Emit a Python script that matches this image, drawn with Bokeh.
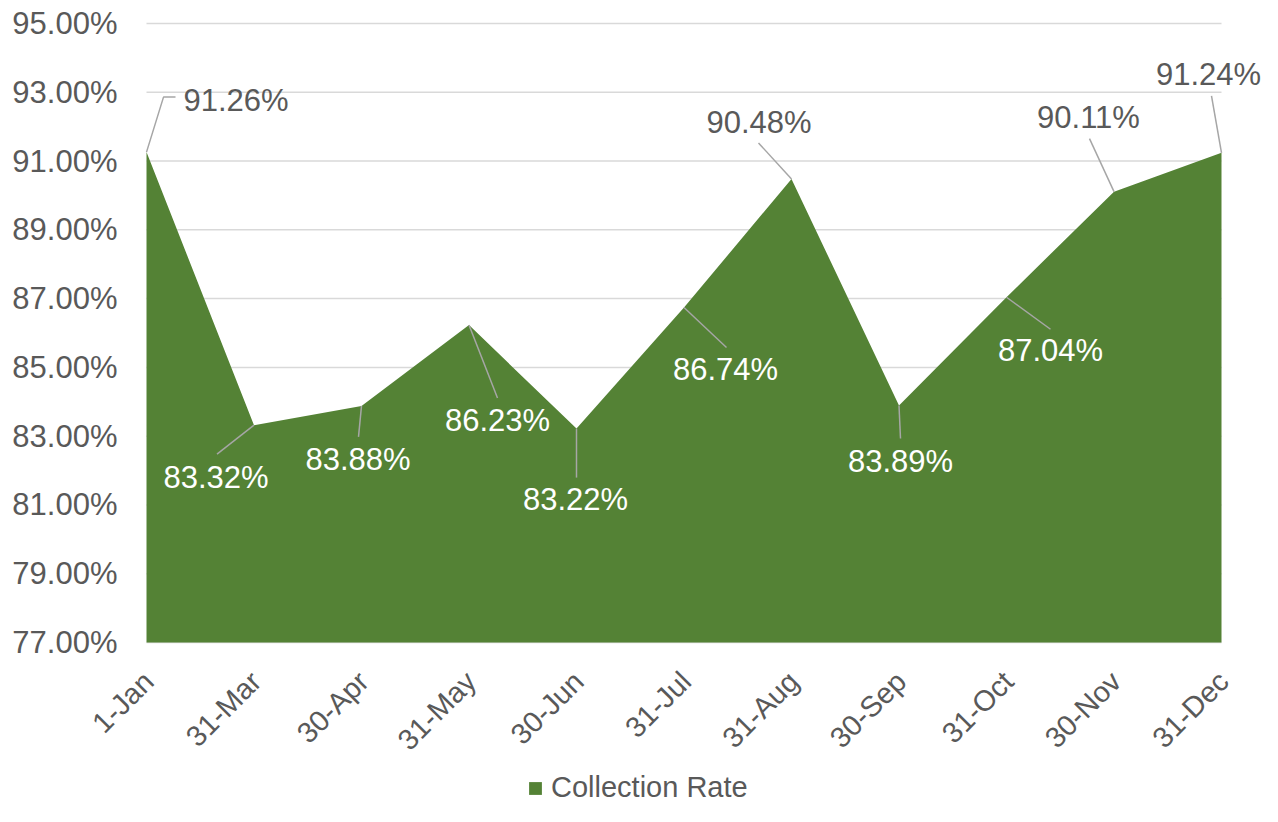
from bokeh.plotting import figure
from bokeh.models import ColumnDataSource, LabelSet, Legend, LegendItem, Range1d
from bokeh.core.properties import value
from bokeh.embed import file_html
from bokeh.resources import INLINE
import math

# ---- data ----
dates = ["1-Jan", "31-Mar", "30-Apr", "31-May", "30-Jun", "31-Jul",
         "31-Aug", "30-Sep", "31-Oct", "30-Nov", "31-Dec"]
collection_rate = [91.26, 83.32, 83.88, 86.23, 83.22, 86.74,
                   90.48, 83.89, 87.04, 90.11, 91.24]
y_ticks = [77, 79, 81, 83, 85, 87, 89, 91, 93, 95]
series_name = "Collection Rate"

# ---- layout / style ----
Y_MIN, Y_MAX = 77, 95
FIG_W, FIG_H = 1262, 806
PLOT_LEFT, PLOT_RIGHT, PLOT_TOP, PLOT_BOTTOM = 146, 1221, 23, 642   # plot area in px
FONT = "Liberation Sans"
GREEN = "#548235"
TXT = "#595959"
LEADER = "#a6a6a6"
GRID = "#d9d9d9"

# label offsets in screen pixels (dx right, dy up) and text colour per label
label_dx = [89.5, -38, -3.5, 28.5, -1, 41.5, -32.5, 1.5, 44, -25.5, -13]
label_dy = [51.6, -52.3, -53.6, -95.4, -70.9, -62, 56.4, -56, -53.3, 74.1, 78.3]
label_col = [TXT, "white", "white", "white", "white", "white", TXT, "white", "white", TXT, TXT]
# leader line bends (screen px offsets from the point)
leader_pts = [[(17, 55), (29, 55)], [(-37, -29)], [(-3, -31)], [(28.5, -73)], [(0, -49)],
              [(42.5, -40)], [(-33, 36)], [(1.5, -33)], [(44, -32)], [(-24.5, 53)], [(-10, 57)]]

n = len(dates)
xs = list(range(n))
sx = (PLOT_RIGHT - PLOT_LEFT) / (n - 1)
sy = (PLOT_BOTTOM - PLOT_TOP) / (Y_MAX - Y_MIN)

x_rng = Range1d(-PLOT_LEFT / sx, (FIG_W - PLOT_LEFT) / sx)
y_rng = Range1d(Y_MIN - (FIG_H - PLOT_BOTTOM) / sy, Y_MAX + PLOT_TOP / sy)

p = figure(frame_width=FIG_W, frame_height=FIG_H, output_backend="svg",
           toolbar_location=None, x_range=x_rng, y_range=y_rng,
           min_border_left=0, min_border_right=0, min_border_top=0, min_border_bottom=0)
p.outline_line_color = None
p.background_fill_color = "white"
p.border_fill_color = "white"
p.axis.visible = False
p.grid.visible = False

# gridlines of the plot area
p.segment(x0=[0] * len(y_ticks), x1=[n - 1] * len(y_ticks), y0=y_ticks, y1=y_ticks,
          line_color=GRID, line_width=1.5)

area = p.varea(x=xs, y1=[Y_MIN] * n, y2=collection_rate, fill_color=GREEN, fill_alpha=1.0)

# leader lines
lx, ly = [], []
for i, v in enumerate(collection_rate):
    lx.append([xs[i]] + [xs[i] + dx / sx for dx, dy in leader_pts[i]])
    ly.append([v] + [v + dy / sy for dx, dy in leader_pts[i]])
p.multi_line(xs=lx, ys=ly, line_color=LEADER, line_width=1.5)

# data labels
src = ColumnDataSource(dict(x=xs, y=collection_rate,
                            text=[f"{v:.2f}%" for v in collection_rate],
                            dx=label_dx, dy=label_dy, col=label_col))
p.add_layout(LabelSet(x="x", y="y", text="text", x_offset="dx", y_offset="dy", source=src,
                      text_color="col", text_font=value(FONT), text_font_size=value("31px"),
                      text_align="center", text_baseline="middle"))

# category axis labels, rotated 45 degrees
xsrc = ColumnDataSource(dict(x=xs, y=[Y_MIN] * n, text=dates))
p.add_layout(LabelSet(x="x", y="y", text="text", source=xsrc, x_offset=2, y_offset=-34,
                      angle=math.pi / 4, text_color=TXT, text_font=value(FONT),
                      text_font_size=value("29px"), text_align="right",
                      text_baseline="middle"))

# value axis labels
ysrc = ColumnDataSource(dict(x=[0] * len(y_ticks), y=y_ticks,
                             text=[f"{t:.2f}%" for t in y_ticks]))
p.add_layout(LabelSet(x="x", y="y", text="text", source=ysrc, x_offset=-29,
                      text_color=TXT, text_font=value(FONT), text_font_size=value("31px"),
                      text_align="right", text_baseline="middle"))

legend = Legend(items=[LegendItem(label=series_name, renderers=[area])],
                orientation="horizontal", location=(527, 2),
                label_text_font=FONT, label_text_font_size="29px",
                label_text_color=TXT, glyph_width=16, glyph_height=16,
                border_line_color=None, background_fill_alpha=0,
                label_standoff=8, margin=0, padding=0)
p.add_layout(legend)

open("out.html", "w").write(file_html(p, INLINE))
